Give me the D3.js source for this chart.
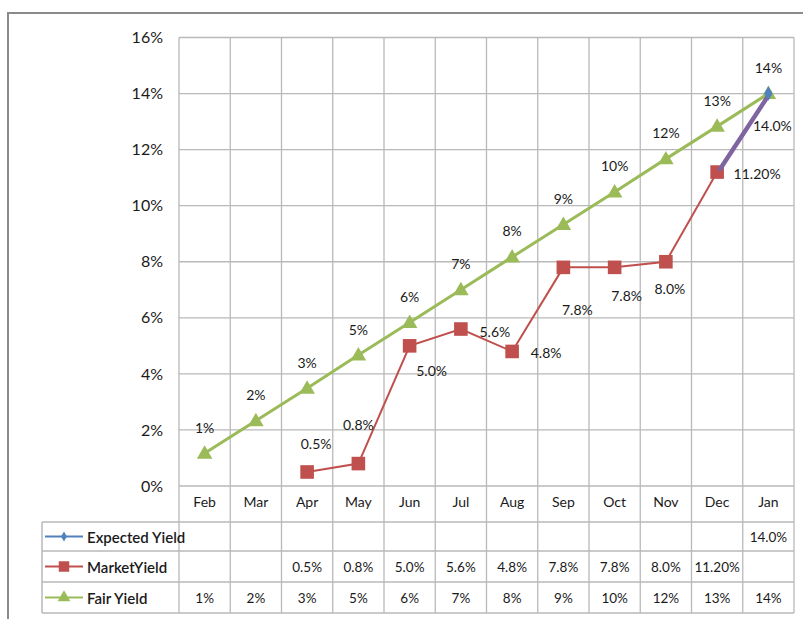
<!DOCTYPE html>
<html>
<head>
<meta charset="utf-8">
<script src="https://cdn.jsdelivr.net/npm/d3@7"></script>
<style>
  html, body { margin: 0; padding: 0; background: #ffffff; }
  svg { display: block; }
  text { font-family: Lato, "Liberation Sans", sans-serif; fill: #1a1a1a; }
</style>
</head>
<body>
<svg id="chart" width="803" height="619"></svg>
<script>
// ---- data ----
const months = ["Feb", "Mar", "Apr", "May", "Jun", "Jul", "Aug", "Sep", "Oct", "Nov", "Dec", "Jan"];
const expectedYield = [null, null, null, null, null, null, null, null, null, null, null, 14.0];
const marketYield = [null, null, 0.5, 0.8, 5.0, 5.6, 4.8, 7.8, 7.8, 8.0, 11.2, null];
const marketDecimals = [null, null, 1, 1, 1, 1, 1, 1, 1, 1, 2, null];
const fairYield = [1.17, 2.33, 3.49, 4.67, 5.83, 7.0, 8.17, 9.33, 10.49, 11.67, 12.83, 14.0];
const yTicks = [0, 2, 4, 6, 8, 10, 12, 14, 16];
const seriesNames = ["Expected Yield", "MarketYield", "Fair Yield"];

// ---- layout ----
const svg = d3.select("#chart");
const plot = { left: 179, right: 794, top: 37.5, bottom: 486 };
const tableLeft = 42;
const rowLines = [522, 551, 582, 613];
const colors = { expected: "#4f81bd", market: "#c0504d", fair: "#9bbb59", link: "#8064a2" };
const gridColor = "#b9b9b9";
const fontFamily = 'Lato, "Liberation Sans", sans-serif';

const x = d3.scaleBand().domain(months).range([plot.left, plot.right]).padding(0);
const y = d3.scaleLinear().domain([0, 16]).range([plot.bottom, plot.top]);
const cx = m => x(m) + x.bandwidth() / 2;

// outer frame
svg.append("line").attr("x1", 8).attr("x2", 803).attr("y1", 13).attr("y2", 13)
  .attr("stroke", "#8a8a8a").attr("stroke-width", 2);
svg.append("line").attr("x1", 8).attr("x2", 8).attr("y1", 12).attr("y2", 619)
  .attr("stroke", "#8a8a8a").attr("stroke-width", 2);

// horizontal gridlines
svg.append("g").selectAll("line").data(yTicks).join("line")
  .attr("x1", plot.left).attr("x2", plot.right)
  .attr("y1", d => y(d)).attr("y2", d => y(d))
  .attr("stroke", gridColor).attr("stroke-width", 1.3);

// vertical gridlines through plot and table
const bounds = months.map(m => x(m)).concat([plot.right]);
svg.append("g").selectAll("line").data(bounds).join("line")
  .attr("x1", d => d).attr("x2", d => d)
  .attr("y1", plot.top).attr("y2", rowLines[3])
  .attr("stroke", gridColor).attr("stroke-width", 1.3);

// table row lines and left border
svg.append("g").selectAll("line").data(rowLines).join("line")
  .attr("x1", tableLeft).attr("x2", plot.right)
  .attr("y1", d => d).attr("y2", d => d)
  .attr("stroke", gridColor).attr("stroke-width", 1.5);
svg.append("line").attr("x1", tableLeft).attr("x2", tableLeft)
  .attr("y1", rowLines[0]).attr("y2", rowLines[3])
  .attr("stroke", gridColor).attr("stroke-width", 1.5);

// y axis labels
const yAxis = d3.axisLeft(y).tickValues(yTicks).tickFormat(d => d + "%").tickSize(0).tickPadding(16);
const yg = svg.append("g").attr("transform", `translate(${plot.left},0)`).call(yAxis);
yg.select(".domain").remove();
yg.selectAll("text").attr("font-size", 16).attr("fill", "#1a1a1a").style("font-family", fontFamily);

// category labels
const xAxis = d3.axisBottom(x).tickSize(0).tickPadding(11);
const xg = svg.append("g").attr("transform", `translate(0,${plot.bottom})`).call(xAxis);
xg.select(".domain").remove();
xg.selectAll("text").attr("font-size", 14).attr("fill", "#1a1a1a").style("font-family", fontFamily);

// marker shapes
const tri = d3.symbol().type(d3.symbolTriangle).size(105);
const sq = d3.symbol().type(d3.symbolSquare).size(185);
const dia = d3.symbol().type(d3.symbolDiamond).size(60);

// fair yield
const fairPts = months.map((m, i) => ({ m, v: fairYield[i] }));
const line = d3.line().x(d => cx(d.m)).y(d => y(d.v));
svg.append("path").datum(fairPts).attr("d", line)
  .attr("fill", "none").attr("stroke", colors.fair).attr("stroke-width", 3);
svg.append("g").selectAll("path").data(fairPts).join("path")
  .attr("d", tri).attr("transform", d => `translate(${cx(d.m)},${y(d.v) + 1})`)
  .attr("fill", colors.fair);

// market yield
const marketPts = months.map((m, i) => ({ m, v: marketYield[i], dec: marketDecimals[i] })).filter(d => d.v != null);
svg.append("path").datum(marketPts).attr("d", line)
  .attr("fill", "none").attr("stroke", colors.market).attr("stroke-width", 2);
svg.append("g").selectAll("path").data(marketPts).join("path")
  .attr("d", sq).attr("transform", d => `translate(${cx(d.m)},${y(d.v)})`)
  .attr("fill", colors.market);

// expected yield
const expectedPts = months.map((m, i) => ({ m, v: expectedYield[i] })).filter(d => d.v != null);

// connector from last market reading to the expected yield
const lastMarket = marketPts[marketPts.length - 1];
svg.append("line")
  .attr("x1", cx(lastMarket.m) + 3).attr("y1", y(lastMarket.v) - 3)
  .attr("x2", cx(expectedPts[0].m)).attr("y2", y(expectedPts[0].v) + 2)
  .attr("stroke", colors.link).attr("stroke-width", 4.5).attr("stroke-linecap", "round");

svg.append("g").selectAll("path").data(expectedPts).join("path")
  .attr("d", dia).attr("transform", d => `translate(${cx(d.m)},${y(d.v)})`)
  .attr("fill", colors.expected);

// data labels
const labelFont = 14;
const fmtFair = v => Math.round(v) + "%";
const fmtMarket = d => d.v.toFixed(d.dec) + "%";

svg.append("g").selectAll("text").data(fairPts).join("text")
  .attr("x", d => cx(d.m)).attr("y", d => y(d.v) - 26)
  .attr("text-anchor", "middle").attr("dominant-baseline", "central")
  .attr("font-size", labelFont).text(d => fmtFair(d.v));

const marketLabelOffsets = {
  Apr: [9, -28], May: [0, -39], Jun: [22, 25], Jul: [34, 2], Aug: [34, 1],
  Sep: [14, 42], Oct: [12, 28], Nov: [4, 27], Dec: [40, 1]
};
svg.append("g").selectAll("text").data(marketPts).join("text")
  .attr("x", d => cx(d.m) + marketLabelOffsets[d.m][0])
  .attr("y", d => y(d.v) + marketLabelOffsets[d.m][1])
  .attr("text-anchor", "middle").attr("dominant-baseline", "central")
  .attr("font-size", labelFont).text(fmtMarket);

svg.append("g").selectAll("text").data(expectedPts).join("text")
  .attr("x", d => cx(d.m) + 4).attr("y", d => y(d.v) + 32)
  .attr("text-anchor", "middle").attr("dominant-baseline", "central")
  .attr("font-size", labelFont).text(d => d.v.toFixed(1) + "%");

// data table rows
const rowMid = i => (rowLines[i] + rowLines[i + 1]) / 2;
const tableFont = 13.5;
const tableRows = [
  months.map((m, i) => ({ m, t: expectedYield[i] == null ? "" : expectedYield[i].toFixed(1) + "%" })),
  months.map((m, i) => ({ m, t: marketYield[i] == null ? "" : marketYield[i].toFixed(marketDecimals[i]) + "%" })),
  months.map((m, i) => ({ m, t: fmtFair(fairYield[i]) }))
];
tableRows.forEach((row, r) => {
  svg.append("g").selectAll("text").data(row.filter(d => d.t)).join("text")
    .attr("x", d => cx(d.m)).attr("y", rowMid(r))
    .attr("text-anchor", "middle").attr("dominant-baseline", "central")
    .attr("font-size", tableFont).text(d => d.t);
});

// legend keys in the table
const keyX1 = 45, keyX2 = 83, keyMid = 64;
const keyColors = [colors.expected, colors.market, colors.fair];
const keySymbols = [d3.symbol().type(d3.symbolDiamond).size(30), d3.symbol().type(d3.symbolSquare).size(110), d3.symbol().type(d3.symbolTriangle).size(70)];
seriesNames.forEach((name, i) => {
  const yy = rowMid(i);
  svg.append("line").attr("x1", keyX1).attr("x2", keyX2).attr("y1", yy).attr("y2", yy)
    .attr("stroke", keyColors[i]).attr("stroke-width", 2);
  svg.append("path").attr("d", keySymbols[i]).attr("transform", `translate(${keyMid},${yy})`)
    .attr("fill", keyColors[i]);
  svg.append("text").attr("x", 87).attr("y", yy).attr("dominant-baseline", "central")
    .attr("font-size", 15).attr("font-weight", 600).text(name);
});
</script>
</body>
</html>
